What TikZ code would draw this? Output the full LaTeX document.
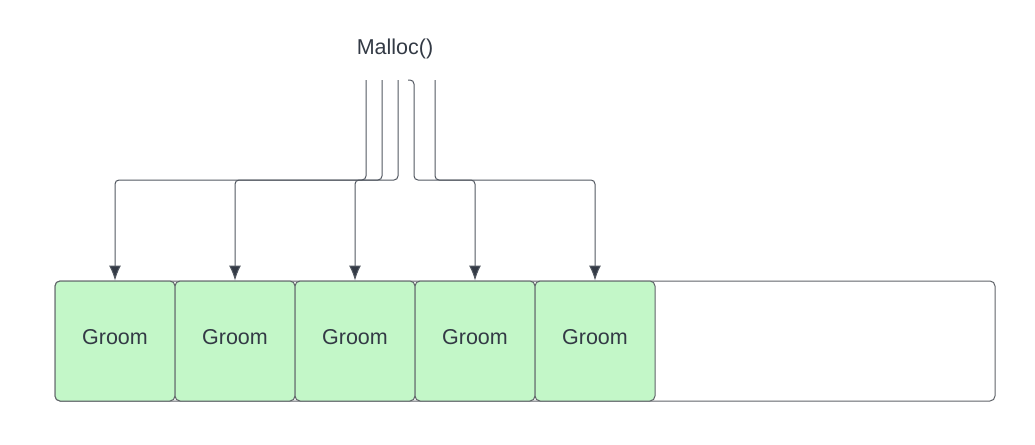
\documentclass[tikz,border=0pt]{standalone}
\usepackage{fontspec}
\setmainfont{Liberation Sans}
\usetikzlibrary{arrows.meta}
\definecolor{ink}{HTML}{333A45}
\definecolor{edge}{HTML}{5F6368}
\definecolor{groomfill}{HTML}{C3F7C8}
\begin{document}
\begin{tikzpicture}[x=1pt,y=-1pt,
  cell/.style={draw=edge,line width=1pt,rounded corners=5pt,minimum width=120pt,minimum height=120pt,inner sep=0pt,text depth=8pt,font=\fontsize{21.5}{26}\selectfont,text=ink},
  link/.style={draw=ink!85,line width=1pt,rounded corners=4pt,-{Latex[length=15pt,width=12pt,fill=ink]}}]
\useasboundingbox (0,0) rectangle (1035,444);
\node[cell,minimum width=940pt] (pool) at (525,341) {};
\node[font=\fontsize{21.5}{26}\selectfont,text=ink] (m) at (395,49) {Malloc()};
\foreach \i/\x in {1/115,2/235,3/355,4/475,5/595}
  \node[cell,fill=groomfill] (b\i) at (\x,341) {Groom};
\coordinate (s1) at (366,80);
\coordinate (s2) at (382,80);
\coordinate (s3) at (398,80);
\coordinate (s4) at (408,80);
\coordinate (s5) at (435,80);
\draw[link] (s1) -- ++(0,100) -| (b1.north);
\draw[link] (s2) -- ++(0,100) -| (b2.north);
\draw[link] (s3) -- ++(0,100) -| (b3.north);
\draw[link] (s4) -- ++(6,0) -- ++(0,100) -| (b4.north);
\draw[link] (s5) -- ++(0,100) -| (b5.north);
\end{tikzpicture}
\end{document}
